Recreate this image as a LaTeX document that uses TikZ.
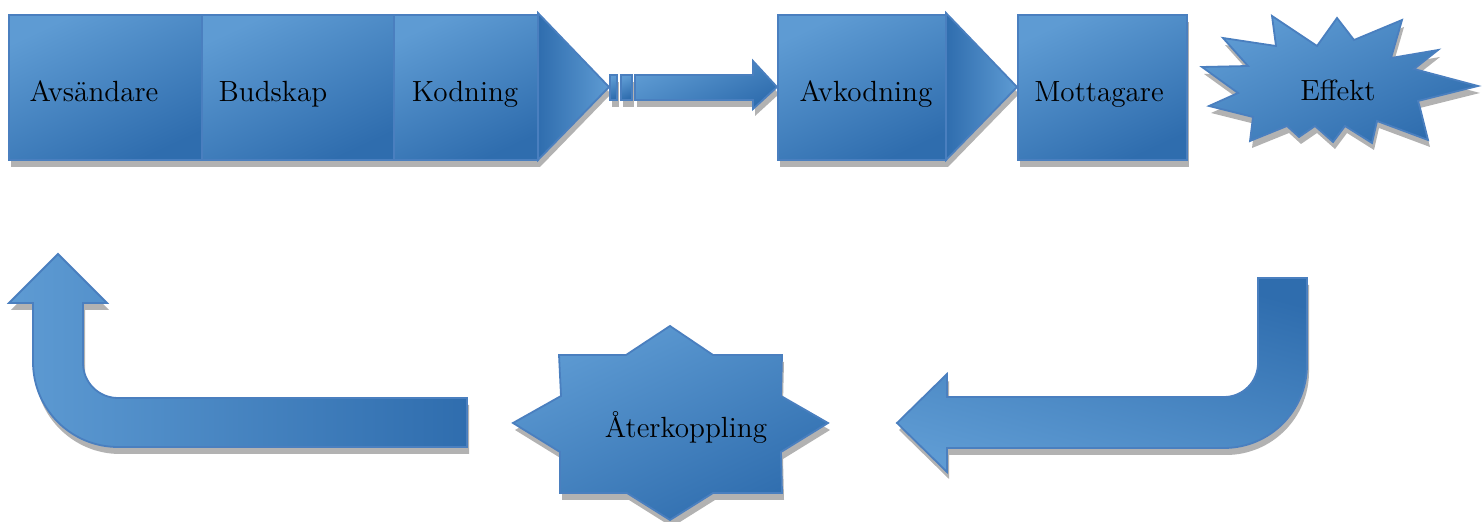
\documentclass[tikz,border=0pt]{standalone}
\begin{document}
\definecolor{lightb}{HTML}{5E9BD3}
\definecolor{darkb}{HTML}{2F6DAE}
\definecolor{edgeb}{HTML}{4A7FBF}
\definecolor{shadowg}{HTML}{B2B2B2}
\newcommand\blockshape[2]{\fill[shadowg,shift={(2,7)}] #2; \path[blk,#1] #2;}
\begin{tikzpicture}[x=0.5pt,y=-0.5pt,
  blk/.style={draw=edgeb, line width=0.9pt, line join=miter},
  vgrad/.style={top color=lightb, bottom color=darkb, shading angle=25},
  vgradrev/.style={top color=darkb, bottom color=lightb, shading angle=-15},
  hgrad/.style={left color=lightb, right color=darkb},
  tgrad/.style={left color=darkb, right color=lightb},
  lbl/.style={anchor=base, inner sep=0pt, font=\fontsize{14.6}{16}\selectfont, text=black}]
\useasboundingbox (0,0) rectangle (1483,522);
% top row
\blockshape{vgrad}{(9,15) rectangle (202,160)}
\blockshape{vgrad}{(202,15) rectangle (394,160)}
\blockshape{vgrad}{(394,15) rectangle (538,160)}
\blockshape{tgrad}{(538,13) -- (609,87) -- (538,160) -- cycle}
\blockshape{vgrad}{(610,75) rectangle (617,100)}
\blockshape{vgrad}{(621,75) rectangle (632,100)}
\blockshape{vgrad}{(635,75) -- (753,75) -- (753,61) -- (777,87) -- (753,109) -- (753,100) -- (635,100) -- cycle}
\blockshape{vgrad}{(778,15) rectangle (946,160)}
\blockshape{tgrad}{(946,13) -- (1017,87) -- (946,160) -- cycle}
\blockshape{vgrad}{(1018,15) rectangle (1187,160)}
\blockshape{vgrad}{(1272,16) -- (1317,46) -- (1337,18) -- (1354,40) -- (1402,20) -- (1391,58) -- (1438,50) -- (1414,69) -- (1478,86) -- (1418,101) -- (1420,108) -- (1428,140) -- (1377,121) -- (1372,143) -- (1345,126) -- (1333,142) -- (1315,126) -- (1299,137) -- (1287,126) -- (1250,141) -- (1253,117) -- (1209,106) -- (1238,93) -- (1202,67) -- (1248,66) -- (1223,38) -- (1276,46) -- cycle}
% bottom row
\blockshape{vgradrev}{(1258,278) -- (1307,278) -- (1307,365) arc[start angle=0,end angle=90,radius=83] -- (947,448) -- (947,472) -- (897,423) -- (947,374) -- (947,397) -- (1224,397) arc[start angle=90,end angle=0,radius=34] -- cycle}
\blockshape{vgrad}{(670,326) -- (713,355) -- (782,355) -- (781,396) -- (828,423) -- (781,452) -- (782,493) -- (713,493) -- (670,520) -- (627,493) -- (560,493) -- (560,452) -- (513,423) -- (561,396) -- (559,355) -- (626,355) -- cycle}
\blockshape{hgrad}{(58,254) -- (107,303) -- (83,303) -- (83,363) arc[start angle=180,end angle=90,radius=35] -- (467,398) -- (467,447) -- (118,447) arc[start angle=90,end angle=180,radius=85] -- (33,303) -- (9,303) -- cycle}
% labels
\node[lbl] (avs) at (94,102) {Avsändare};
\node[lbl] (bud) at (273,102) {Budskap};
\node[lbl] (kod) at (465,102) {Kodning};
\node[lbl] (avk) at (866,102) {Avkodning};
\node[lbl] (mot) at (1099,102) {Mottagare};
\node[lbl] (eff) at (1338,101) {Effekt};
\node[lbl] (ater) at (686,438) {Återkoppling};
\end{tikzpicture}
\end{document}
